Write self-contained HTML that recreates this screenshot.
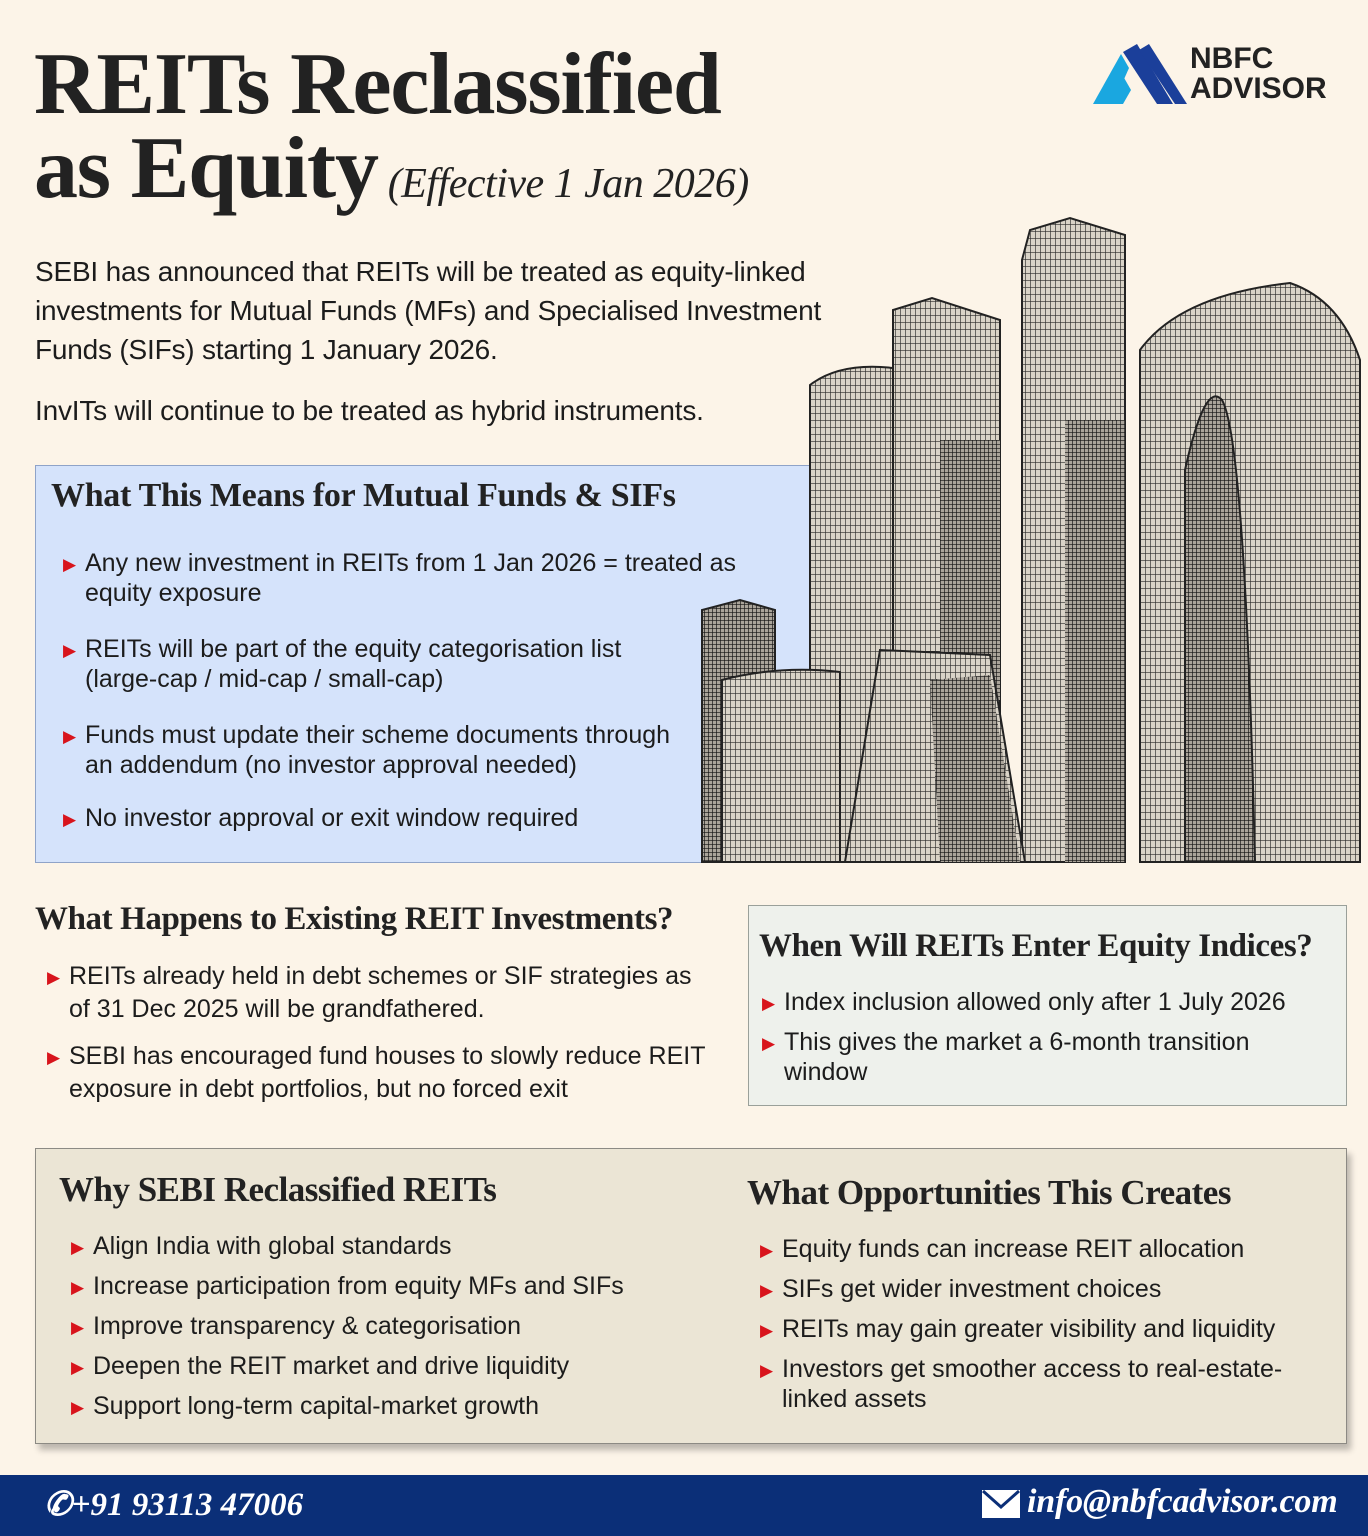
<!DOCTYPE html>
<html><head><meta charset="utf-8">
<style>
*{margin:0;padding:0;box-sizing:border-box}
body{width:1368px;height:1536px;background:#fcf4e8;position:relative;overflow:hidden;font-family:"Liberation Sans",sans-serif;color:#1c1c1c}
.a{position:absolute;white-space:nowrap}
.ser{font-family:"Liberation Serif","DejaVu Serif",serif;font-weight:bold;color:#222}
.t{font-size:28px;letter-spacing:-0.2px;line-height:32px}
.b{font-size:25px;letter-spacing:0;line-height:30px}
.tri{color:#d8141c;font-size:17px;position:absolute;left:-22px;top:2px}
.li{position:absolute;white-space:nowrap}
</style></head><body>

<div class="a ser" style="left:34px;top:40px;font-size:88px;letter-spacing:-1.2px;line-height:90px">REITs Reclassified</div>
<div class="a ser" style="left:34px;top:124px;font-size:88px;letter-spacing:-1.2px;line-height:90px">as Equity<span style="font-size:42px;font-style:italic;font-weight:normal;letter-spacing:-0.5px"> (Effective 1 Jan 2026)</span></div>

<!-- logo -->
<svg class="a" style="left:1093px;top:42px" width="95" height="64" viewBox="0 0 95 64">
<polygon points="0,62 28,12 36,26 20,62" fill="#1aa7e0"/>
<polygon points="14,62 30,34 38,48 30,62" fill="#1aa7e0"/>
<polygon points="30,10 44,2 80,62 64,62" fill="#1b3f9a"/>
<polygon points="46,8 56,2 94,62 82,62" fill="#1b3f9a"/>
</svg>
<div class="a" style="left:1190px;top:44px;font-size:30px;font-weight:bold;line-height:30px;color:#222">NBFC<br>ADVISOR</div>

<div class="a t" style="left:35px;top:256px">SEBI has announced that REITs will be treated as equity-linked</div>
<div class="a t" style="left:35px;top:295px">investments for Mutual Funds (MFs) and Specialised Investment</div>
<div class="a t" style="left:35px;top:334px">Funds (SIFs) starting 1 January 2026.</div>
<div class="a t" style="left:35px;top:395px">InvITs will continue to be treated as hybrid instruments.</div>

<!-- blue box -->
<div class="a" style="left:35px;top:465px;width:780px;height:398px;background:#d5e3fb;border:1px solid #8fa3c8"></div>
<div class="a ser" style="left:51px;top:477px;font-size:34px;letter-spacing:-0.3px">What This Means for Mutual Funds &amp; SIFs</div>
<div class="li b" style="left:85px;top:548px"><span class="tri">▶</span>Any new investment in REITs from 1 Jan 2026 = treated as<br>equity exposure</div>
<div class="li b" style="left:85px;top:634px"><span class="tri">▶</span>REITs will be part of the equity categorisation list<br>(large-cap / mid-cap / small-cap)</div>
<div class="li b" style="left:85px;top:720px"><span class="tri">▶</span>Funds must update their scheme documents through<br>an addendum (no investor approval needed)</div>
<div class="li b" style="left:85px;top:803px"><span class="tri">▶</span>No investor approval or exit window required</div>

<!-- buildings -->
<svg class="a" style="left:0;top:0" width="1368" height="870">
<defs>
<pattern id="g" width="5" height="7" patternUnits="userSpaceOnUse"><rect width="5" height="7" fill="#d9d3c7"/><path d="M0 0V7M0 0H5" stroke="#2a2a2a" stroke-width="1.3"/></pattern>
<pattern id="g2" width="4" height="4" patternUnits="userSpaceOnUse"><rect width="4" height="4" fill="#aaa49a"/><path d="M0 0V4M0 0H4" stroke="#111" stroke-width="1.3"/></pattern>
</defs>
<g stroke="#222" stroke-width="2">
<path d="M1140 862 V350 Q1180 295 1290 283 Q1340 300 1360 360 V862Z" fill="url(#g)"/>
<path d="M1185 862 V470 Q1205 380 1222 400 Q1245 440 1255 862Z" fill="url(#g2)"/>
<path d="M1022 862 V260 L1030 230 L1070 218 L1125 235 V862Z" fill="url(#g)"/>
<path d="M1065 420 H1125 V862 H1065Z" fill="url(#g2)" stroke="none"/>
<path d="M810 862 V385 Q840 362 893 368 V862Z" fill="url(#g)"/>
<path d="M893 862 V310 L932 298 L1000 320 V862Z" fill="url(#g)"/>
<path d="M940 440 H1000 V700 H940Z" fill="url(#g2)" stroke="none"/>
<path d="M702 862 V610 L740 600 L775 610 V862Z" fill="url(#g2)"/>
<path d="M722 862 V680 Q780 665 840 672 V862Z" fill="url(#g)"/>
<path d="M845 862 L880 650 L990 655 L1025 862Z" fill="url(#g)"/>
<path d="M930 680 L990 675 L1020 862 H940Z" fill="url(#g2)" stroke="none"/>
</g>
</svg>

<!-- existing -->
<div class="a ser" style="left:35px;top:901px;font-size:33px;letter-spacing:-0.4px">What Happens to Existing REIT Investments?</div>
<div class="li b" style="left:69px;top:961px"><span class="tri">▶</span>REITs already held in debt schemes or SIF strategies as<br><span style="line-height:36px">of 31 Dec 2025 will be grandfathered.</span></div>
<div class="li b" style="left:69px;top:1041px"><span class="tri">▶</span>SEBI has encouraged fund houses to slowly reduce REIT<br><span style="line-height:36px">exposure in debt portfolios, but no forced exit</span></div>

<div class="a" style="left:748px;top:905px;width:599px;height:201px;background:#eef1ec;border:1px solid #9aa09a"></div>
<div class="a ser" style="left:759px;top:928px;font-size:33px;letter-spacing:-0.4px">When Will REITs Enter Equity Indices?</div>
<div class="li b" style="left:784px;top:987px"><span class="tri">▶</span>Index inclusion allowed only after 1 July 2026</div>
<div class="li b" style="left:784px;top:1027px"><span class="tri">▶</span>This gives the market a 6-month transition<br>window</div>

<!-- bottom box -->
<div class="a" style="left:35px;top:1148px;width:1312px;height:296px;background:#ebe5d5;border:1px solid #8c8a84;box-shadow:4px 6px 6px rgba(0,0,0,0.25)"></div>
<div class="a ser" style="left:59px;top:1170px;font-size:35px;letter-spacing:-0.5px">Why SEBI Reclassified REITs</div>
<div class="a ser" style="left:747px;top:1173px;font-size:35px;letter-spacing:-0.5px">What Opportunities This Creates</div>
<div class="li b" style="left:93px;top:1231px;line-height:30px"><span class="tri">▶</span>Align India with global standards</div>
<div class="li b" style="left:93px;top:1271px;line-height:30px"><span class="tri">▶</span>Increase participation from equity MFs and SIFs</div>
<div class="li b" style="left:93px;top:1311px;line-height:30px"><span class="tri">▶</span>Improve transparency &amp; categorisation</div>
<div class="li b" style="left:93px;top:1351px;line-height:30px"><span class="tri">▶</span>Deepen the REIT market and drive liquidity</div>
<div class="li b" style="left:93px;top:1391px;line-height:30px"><span class="tri">▶</span>Support long-term capital-market growth</div>
<div class="li b" style="left:782px;top:1234px;line-height:30px"><span class="tri">▶</span>Equity funds can increase REIT allocation</div>
<div class="li b" style="left:782px;top:1274px;line-height:30px"><span class="tri">▶</span>SIFs get wider investment choices</div>
<div class="li b" style="left:782px;top:1314px;line-height:30px"><span class="tri">▶</span>REITs may gain greater visibility and liquidity</div>
<div class="li b" style="left:782px;top:1354px;line-height:30px"><span class="tri">▶</span>Investors get smoother access to real-estate-<br>linked assets</div>

<!-- footer -->
<div class="a" style="left:0;top:1475px;width:1368px;height:61px;background:#0b2f78"></div>
<div class="a" style="left:44px;top:1484px;color:#fff;font-family:'Liberation Serif',serif;font-style:italic;font-weight:bold;font-size:33px">✆+91 93113 47006</div>
<div class="a" style="left:982px;top:1490px;width:38px;height:28px;background:#fff"></div>
<svg class="a" style="left:982px;top:1490px" width="38" height="28"><path d="M1 1 L19 17 L37 1" stroke="#0b2f78" stroke-width="3" fill="none"/></svg>
<div class="a" style="left:1027px;top:1483px;color:#fff;font-family:'Liberation Serif',serif;font-style:italic;font-weight:bold;font-size:34px;letter-spacing:-0.2px">info@nbfcadvisor.com</div>
</body></html>
